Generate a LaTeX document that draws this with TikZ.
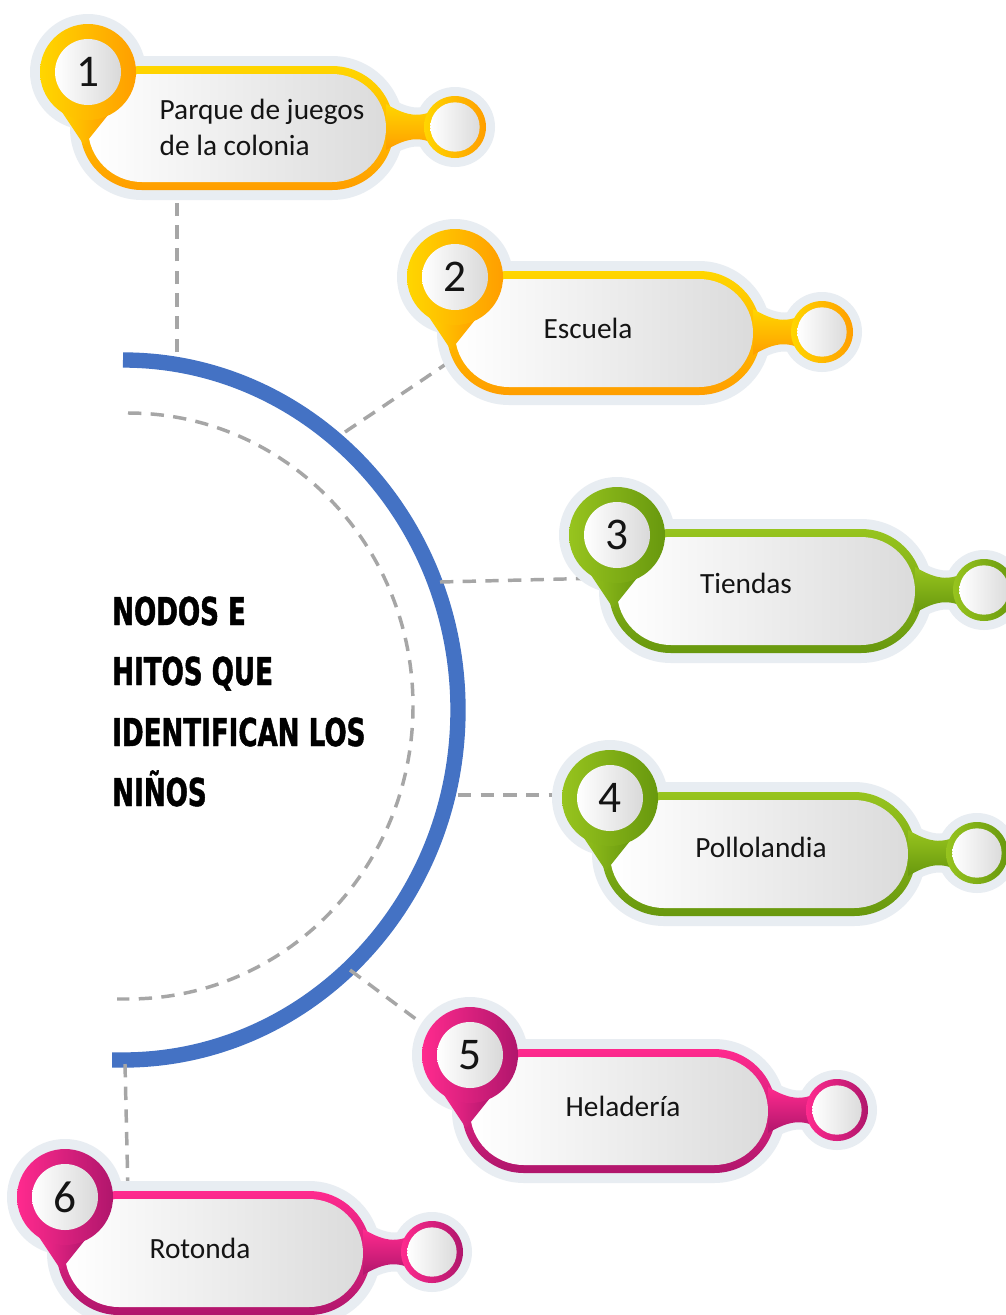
\documentclass[tikz,border=0pt]{standalone}
\usepackage{fontspec}
\setmainfont{Carlito}
\newfontfamily\titulofont{DejaVu Sans}[FakeStretch=0.68, FakeBold=1.2]
\usetikzlibrary{calc}
\definecolor{amaclaro}{RGB}{255,214,0}
\definecolor{amaoscuro}{RGB}{255,158,0}
\definecolor{verclaro}{RGB}{151,196,30}
\definecolor{veroscuro}{RGB}{104,152,14}
\definecolor{rosclaro}{RGB}{255,42,142}
\definecolor{rososcuro}{RGB}{176,22,108}
\definecolor{halo}{RGB}{232,237,242}
\definecolor{arcoazul}{RGB}{68,114,196}
\definecolor{guion}{RGB}{166,166,166}
\definecolor{texto}{RGB}{20,20,20}

\tikzset{
  conector/.style={guion, line width=2.6pt, dash pattern=on 10pt off 7pt},
  etiqueta/.style={texto, font=\fontsize{22}{27}\selectfont, align=left},
  numero/.style={texto, font=\fontsize{34}{34}\selectfont},
  titulo/.style={anchor=base west, inner sep=0pt,
    font=\titulofont\bfseries\fontsize{28.8}{30}\selectfont}
}

% #1 name, #2 x, #3 y, #4 number, #5 colour, #6 label position, #7 label
\newcommand{\hito}[7]{%
\begin{scope}[shift={(#2,#3)}]
  % halo
  \fill[halo, rounded corners=54pt] (-18,-16) rectangle (316,128);
  \fill[halo] (0,0) circle (43.5pt);
  \fill[halo] (295,22) .. controls (325,40) and (335,40) .. (362,22)
    -- (362,88) .. controls (335,70) and (325,70) .. (295,88) -- cycle;
  \fill[halo] (367,55) circle (30pt);
  % coloured ring, neck and end circle
  \shade[top color=#5claro, bottom color=#5oscuro, rounded corners=46.5pt]
    (-8,-6) rectangle (306,118);
  \shade[top color=#5claro, bottom color=#5oscuro] (298,32) .. controls (322,46) and (334,46) .. (355,34)
    -- (355,76) .. controls (334,64) and (322,64) .. (298,78) -- cycle;
  \shade[left color=#5claro, right color=#5oscuro] (367,55) circle (23.25pt);
  \shade[left color=white, right color=black!14, rounded corners=40.5pt] (0,2) rectangle (298,110);
  \shade[left color=white, right color=black!14] (367,55) circle (18.5pt);
  % number pin
  \shade[left color=#5claro, right color=#5oscuro] (-34,28) -- (-4,73) -- (24,38) -- cycle;
  \shade[left color=#5claro, right color=#5oscuro] (0,0) circle (36pt);
  \shade[left color=white, right color=black!15] (0,0) circle (24.75pt);
  \node[numero] (#1-num) at (0,0) {#4};
  \node[etiqueta] (#1) at #6 {#7};
\end{scope}}

\begin{document}
\begin{tikzpicture}[x=0.75pt, y=-0.75pt]
\fill[white] (0,0) rectangle (1006,1315);
\useasboundingbox (0,0) rectangle (1006,1315);

% ---- arcs ----
\draw[conector] (128,413) arc[start angle=-90, end angle=90, x radius=285, y radius=293] -- (117,999);
\draw[arcoazul, line width=11.5pt] (123,360) arc[start angle=-90, end angle=90, x radius=335, y radius=350] -- (112,1060);

% ---- connectors ----
\coordinate (a1) at (177,352);
\coordinate (a2) at (345,432);
\coordinate (a3) at (440,582);
\coordinate (a4) at (458,795);
\coordinate (a5) at (350,970);
\coordinate (a6) at (125,1064);
\coordinate (e1) at (177,200);
\coordinate (e2) at (452,360);
\coordinate (e3) at (605,578);
\coordinate (e4) at (565,795);
\coordinate (e5) at (436,1034);
\coordinate (e6) at (128,1192);
\foreach \i in {1,...,6}
  \draw[conector] (a\i) -- (e\i);

% ---- title ----
\node[titulo] (t1) at (112,625) {NODOS E};
\node[titulo] (t2) at (112,685) {HITOS QUE};
\node[titulo] (t3) at (112,746) {IDENTIFICAN LOS};
\node[titulo] (t4) at (112,806) {NIÑOS};

% ---- items ----
\hito{h1}{88}{72}{1}{ama}{(174,55)}{Parque de juegos\\de la colonia}
\hito{h2}{455}{277}{2}{ama}{(133,51)}{Escuela}
\hito{h3}{617}{535}{3}{ver}{(129,48)}{Tiendas}
\hito{h4}{610}{798}{4}{ver}{(151,49)}{Pollolandia}
\hito{h5}{470}{1055}{5}{ros}{(153,51)}{Heladería}
\hito{h6}{65}{1197}{6}{ros}{(135,51)}{Rotonda}
\end{tikzpicture}
\end{document}
